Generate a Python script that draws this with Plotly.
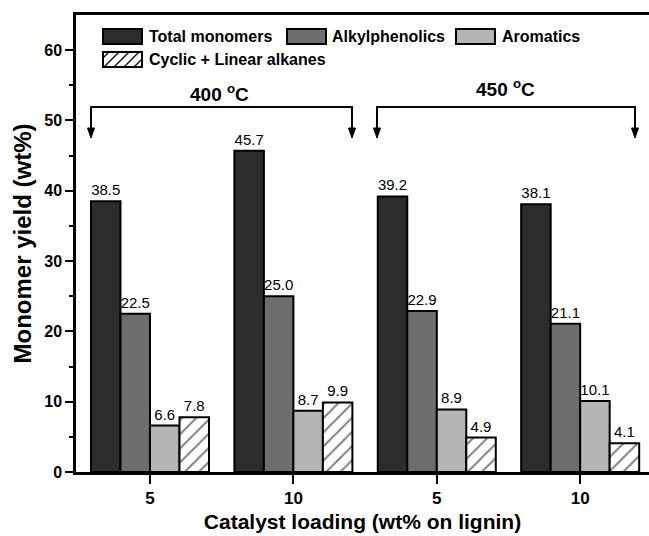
import plotly.graph_objects as go

# ---------------- data ----------------
loading = ["5", "10", "5", "10"]
temperature_groups = ["400 <sup>o</sup>C", "450 <sup>o</sup>C"]
series_names = ["Total monomers", "Alkylphenolics", "Aromatics", "Cyclic + Linear alkanes"]
total_monomers = [38.5, 45.7, 39.2, 38.1]
alkylphenolics = [22.5, 25.0, 22.9, 21.1]
aromatics = [6.6, 8.7, 8.9, 10.1]
alkanes = [7.8, 9.9, 4.9, 4.1]

# ---------------- geometry helpers (pixel -> paper) ----------------
W, H = 649, 536
ML, MR, MT, MB = 76, 0, 15, 64
PW, PH = W - ML - MR, H - MT - MB


def px(x):
    return (x - ML) / PW


def py(y):
    return (H - MB - y) / PH


FONT = "Liberation Sans, Arial, sans-serif"
fills = ["#2c2c2c", "#6e6e6e", "#b5b5b5", "#ffffff"]
series_vals = [total_monomers, alkylphenolics, aromatics, alkanes]
xpos = list(range(len(loading)))

fig = go.Figure()
for i, (name, vals) in enumerate(zip(series_names, series_vals)):
    marker = dict(color=fills[i], line=dict(color="black", width=2))
    if i == 3:
        marker["pattern"] = dict(shape="/", size=10, solidity=0.2,
                                 fgcolor="black", bgcolor="white")
    fig.add_trace(go.Bar(
        x=xpos, y=vals, name=name, marker=marker,
        text=[f"{v:.1f}" for v in vals], textposition="outside",
        textfont=dict(family=FONT, size=15, color="black"),
        constraintext="none", cliponaxis=False, showlegend=False,
    ))

shapes = []
annotations = []

# ---------------- manual legend ----------------
leg_items = [
    (103, 29, 147, series_names[0], fills[0], False),
    (287, 29, 330, series_names[1], fills[1], False),
    (456, 29, 500, series_names[2], fills[2], False),
    (103, 52, 147, series_names[3], "#ffffff", True),
]
for sx, sy, tx, name, col, hatch in leg_items:
    x0, x1, y0, y1 = sx, sx + 39, sy, sy + 15
    shapes.append(dict(type="rect", xref="paper", yref="paper",
                       x0=px(x0), x1=px(x1), y0=py(y1), y1=py(y0),
                       fillcolor=col, line=dict(color="black", width=2)))
    if hatch:
        c = x0 + y0 + 6
        while c < x1 + y1:
            xa = max(x0, c - y1)
            xb = min(x1, c - y0)
            if xb > xa:
                shapes.append(dict(type="line", xref="paper", yref="paper",
                                   x0=px(xa), y0=py(c - xa), x1=px(xb), y1=py(c - xb),
                                   line=dict(color="black", width=1.2)))
            c += 10
    annotations.append(dict(text=name, xref="paper", yref="paper",
                            x=px(tx), y=py(sy + 7.5), xanchor="left", yanchor="middle",
                            showarrow=False,
                            font=dict(family=FONT, size=16, color="black", weight="bold")))

# ---------------- temperature brackets ----------------
brackets = [(91, 352, 219, 93), (377, 635, 505, 88)]
BR_Y, TIP_Y = 107, 138
for (bx0, bx1, lx, ly), label in zip(brackets, temperature_groups):
    shapes.append(dict(type="line", xref="paper", yref="paper",
                       x0=px(bx0 - 1), x1=px(bx1 + 1), y0=py(BR_Y), y1=py(BR_Y),
                       line=dict(color="black", width=2)))
    for bx in (bx0, bx1):
        shapes.append(dict(type="line", xref="paper", yref="paper",
                           x0=px(bx), x1=px(bx), y0=py(BR_Y), y1=py(TIP_Y - 6),
                           line=dict(color="black", width=2)))
        path = (f"M {px(bx - 3.5)} {py(TIP_Y - 10)} L {px(bx + 3.5)} {py(TIP_Y - 10)} "
                f"L {px(bx)} {py(TIP_Y)} Z")
        shapes.append(dict(type="path", xref="paper", yref="paper", path=path,
                           fillcolor="black", line=dict(color="black", width=1)))
    annotations.append(dict(text=label, xref="paper", yref="paper",
                            x=px(lx), y=py(ly), xanchor="center", yanchor="middle",
                            showarrow=False,
                            font=dict(family=FONT, size=19, color="black", weight="bold")))

fig.update_layout(
    width=W, height=H,
    margin=dict(l=ML, r=MR, t=MT, b=MB, pad=0),
    plot_bgcolor="white", paper_bgcolor="white",
    barmode="group", bargap=0.177, bargroupgap=0,
    shapes=shapes, annotations=annotations,
    font=dict(family=FONT, color="black"),
)
fig.update_xaxes(
    range=[-0.516, 3.48], tickvals=xpos, ticktext=loading,
    showline=True, linewidth=2.5, linecolor="black", mirror=True,
    ticks="outside", ticklen=9, tickwidth=2, tickcolor="black",
    showgrid=False, zeroline=False,
    tickfont=dict(family=FONT, size=17, color="black", weight="bold"),
    title=dict(text="Catalyst loading (wt% on lignin)", standoff=8,
               font=dict(family=FONT, size=21, color="black", weight="bold")),
)
fig.update_yaxes(
    range=[0, 65], tickvals=[0, 10, 20, 30, 40, 50, 60],
    showline=True, linewidth=2.5, linecolor="black",
    ticks="outside", ticklen=8, tickwidth=2, tickcolor="black",
    minor=dict(tickvals=[5, 15, 25, 35, 45, 55], ticks="outside", ticklen=4,
               tickwidth=1.5, tickcolor="black"),
    showgrid=False, zeroline=False,
    tickfont=dict(family=FONT, size=16, color="black", weight="bold"),
    title=dict(text="Monomer yield (wt%)", standoff=6,
               font=dict(family=FONT, size=24, color="black", weight="bold")),
)

fig.write_html("out.html")
